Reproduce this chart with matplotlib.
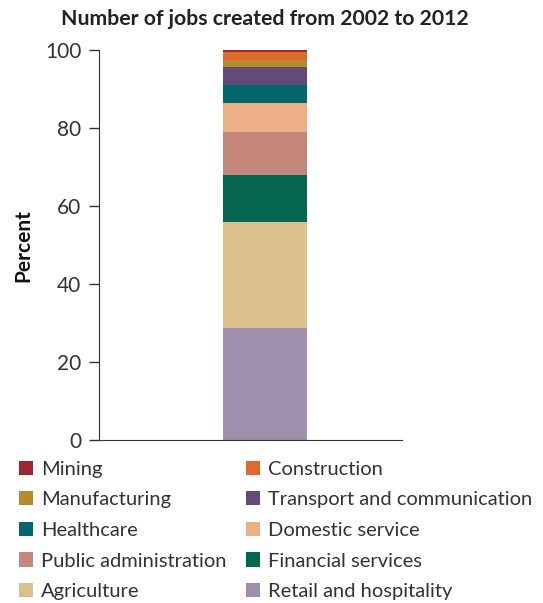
import matplotlib.pyplot as plt
from matplotlib.patches import Patch

# Datos: de arriba a abajo en la barra
sectores = ["Mining", "Construction", "Manufacturing", "Transport and communication",
            "Healthcare", "Domestic service", "Public administration",
            "Financial services", "Agriculture", "Retail and hospitality"]
porcentajes = [0.5, 2.1, 1.8, 4.6, 4.6, 7.4, 11.1, 12.0, 27.2, 28.7]
colores = ["#9B2830", "#E06A2B", "#B88A2E", "#634A7A", "#03666B",
           "#EDAF86", "#C4877A", "#046651", "#D9C08C", "#A08FAC"]

plt.rcParams['font.family'] = ['Lato', 'DejaVu Sans']
texto = "#333333"

fig = plt.figure(figsize=(5.43, 6.03), dpi=100)
ax = fig.add_axes([0.183, 0.270, 0.557, 0.647])

# Apilar desde abajo (Retail primero)
base = 0
for nombre, valor, color in zip(reversed(sectores), reversed(porcentajes), reversed(colores)):
    ax.bar(0, valor, width=0.5, bottom=base, color=color, linewidth=0)
    base += valor

ax.set_xlim(-0.981, 0.81)
ax.set_ylim(0, 100)
ax.set_yticks([0, 20, 40, 60, 80, 100])
ax.set_xticks([])
ax.tick_params(axis='y', labelsize=15, colors=texto, length=7, width=1, pad=6)
for lbl in ax.get_yticklabels():
    lbl.set_color(texto)
ax.spines['top'].set_visible(False)
ax.spines['right'].set_visible(False)
ax.spines['left'].set_color(texto)
ax.spines['bottom'].set_color(texto)
ax.set_ylabel("Percent", fontsize=15, fontweight='bold', color='#111111', labelpad=8)
fig.text(0.488, 0.968, "Number of jobs created from 2002 to 2012", ha='center', va='center',
         fontsize=15.3, fontweight='bold', color='#222222')

# Leyenda: filas en orden de la barra
izq = [0, 2, 4, 6, 8]
der = [1, 3, 5, 7, 9]
orden = izq + der
handles = [Patch(facecolor=colores[i], edgecolor='none') for i in orden]
labels = [sectores[i] for i in orden]
leg = fig.legend(handles, labels, ncol=2, loc='upper left', bbox_to_anchor=(0.035, 0.236),
                 frameon=False, fontsize=14.5, handlelength=0.7, handleheight=0.7,
                 handletextpad=0.4, columnspacing=0.95, labelspacing=0.67,
                 borderaxespad=0, borderpad=0)
for t in leg.get_texts():
    t.set_color(texto)

fig.savefig("out.png", dpi=100)
